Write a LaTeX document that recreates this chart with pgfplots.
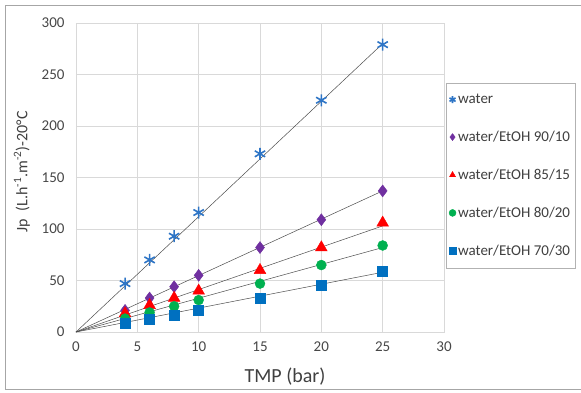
\documentclass[border=0pt]{standalone}
\usepackage{pgfplots}
\pgfplotsset{compat=1.18}
\usepackage{fontspec}
\setmainfont{Carlito}
\definecolor{wblue}{HTML}{2E75C6}
\definecolor{mpurple}{HTML}{7030A0}
\definecolor{mred}{HTML}{FF0000}
\definecolor{mgreen}{HTML}{00B050}
\definecolor{mblue}{HTML}{0070C0}
\definecolor{gridc}{HTML}{D9D9D9}
\begin{document}
\begin{tikzpicture}
\useasboundingbox (-76pt,-60pt) rectangle (505pt,332pt);
\draw[gray!70, line width=0.8pt] (505pt,327pt) -- (-71pt,327pt) -- (-71pt,-57pt) -- (505pt,-57pt);
\begin{axis}[
  scale only axis,
  width=368pt, height=309pt,
  xmin=0, xmax=30, ymin=0, ymax=300,
  xtick={0,5,...,30}, ytick={0,50,...,300},
  grid=major,
  major grid style={gridc, line width=0.6pt},
  axis line style={gridc, line width=0.6pt},
  tick style={draw=none},
  /pgf/number format/assume math mode=true,
  ticklabel style={font=\fontsize{15}{18}\selectfont, text=black!72},
  yticklabel style={xshift=-8pt},
  xticklabel style={yshift=-6pt},
  clip=false,
  legend style={at={(axis description cs:1.005,0.806)}, anchor=north west,
    draw=gray!60, font=\fontsize{15}{18}\selectfont, text=black!75,
    row sep=22pt, inner xsep=3pt, inner ysep=9pt,
    /tikz/every even column/.append style={column sep=0pt}},
  legend cell align=left,
  legend image code/.code={\draw[#1, mark size=3.5pt] plot coordinates {(0.15cm,0cm)};},
]
% trend lines
\addplot[gray!60!black, line width=0.5pt, forget plot] coordinates {(0,0) (25,280)};
\addplot[gray!60!black, line width=0.5pt, forget plot] coordinates {(0,0) (25,137)};
\addplot[gray!60!black, line width=0.5pt, forget plot] coordinates {(0,0) (25,103)};
\addplot[gray!60!black, line width=0.5pt, forget plot] coordinates {(0,0) (25,82)};
\addplot[gray!60!black, line width=0.5pt, forget plot] coordinates {(0,0) (25,58)};
% data
\addplot[only marks, mark=asterisk, mark size=6pt, mark options={draw=wblue, line width=1.6pt}] coordinates {(4,47) (6,70) (8,93) (10,116) (15,173) (20,225) (25,279)};
\addlegendentry{water}
\addplot[only marks, mark=diamond*, mark size=6pt, mark options={draw=mpurple, fill=mpurple}] coordinates {(4,21) (6,33) (8,44) (10,55) (15,82) (20,109) (25,137)};
\addlegendentry{water/EtOH 90/10}
\addplot[only marks, mark=triangle*, mark size=6.8pt, mark options={draw=mred, fill=mred}] coordinates {(4,18) (6,26) (8,33) (10,40) (15,60) (20,82) (25,106)};
\addlegendentry{water/EtOH 85/15}
\addplot[only marks, mark=*, mark size=5pt, mark options={draw=mgreen, fill=mgreen}] coordinates {(4,13) (6,19) (8,25) (10,31) (15,47) (20,65) (25,84)};
\addlegendentry{water/EtOH 80/20}
\addplot[only marks, mark=square*, mark size=5pt, mark options={draw=mblue, fill=mblue}] coordinates {(4,9) (6,12) (8,16) (10,21) (15,33) (20,45) (25,59)};
\addlegendentry{water/EtOH 70/30}
\end{axis}
\node[font=\fontsize{20}{24}\selectfont, text=black!75] at (209pt,-45pt) {TMP (bar)};
\node[font=\fontsize{16}{19}\selectfont, text=black!75, rotate=90] at (-54pt,160pt) {Jp\enspace(L.h\textsuperscript{-1}.m\textsuperscript{-2})-20°C};
\end{tikzpicture}
\end{document}
